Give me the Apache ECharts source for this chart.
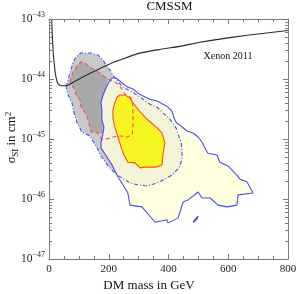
<!DOCTYPE html>
<html><head><meta charset="utf-8">
<script src="https://cdn.jsdelivr.net/npm/echarts@6/dist/echarts.min.js"></script>
<style>html,body{margin:0;padding:0;background:#fff}#c{width:297px;height:294px}</style>
</head><body><div id="c"></div>
<script>
// ---- tick labels ----
const xTicks = [0, 200, 400, 600, 800];
const yExponents = [-47, -46, -45, -44, -43];

// ---- Xenon 2011 exclusion curve [mass GeV, sigma cm^2] ----
const xenon2011 = [[9,1.0e-43],[11,5.4e-44],[14,2.85e-44],[18,1.7e-44],[22,1.17e-44],[29,8.5e-45],[40,7.7e-45],[59,7.7e-45],[76,8.5e-45],[107,1.04e-44],[140,1.26e-44],[174,1.52e-44],[207,1.82e-44],[234,2.05e-44],[298,2.65e-44],[370,3.1e-44],[438,3.5e-44],[505,4.1e-44],[549,4.45e-44],[663,5.35e-44],[800,6.45e-44]];

// ---- blue solid outer contour ----
const blueSolid = [[211,1.04e-44],[224,1.04e-44],[241,8.9e-45],[261,7.4e-45],[281,6.8e-45],[298,5.8e-45],[315,5.2e-45],[338,4.6e-45],[362,4.3e-45],[382,3.8e-45],[398,3.4e-45],[412,2.9e-45],[418,2.3e-45],[425,1.9e-45],[438,1.7e-45],[462,1.36e-45],[482,1.26e-45],[499,1.08e-45],[512,8.9e-46],[522,7.1e-46],[532,5.8e-46],[562,5.4e-46],[572,4.1e-46],[599,3.55e-46],[629,2.5e-46],[639,2.15e-46],[663,1.92e-46],[683,1.26e-46],[633,1.17e-46],[629,7.9e-47],[596,7.4e-47],[566,7.9e-47],[539,1.04e-46],[512,1.04e-46],[499,1.31e-46],[465,9.6e-47],[449,8.9e-47],[432,4.8e-47],[398,4.0e-47],[395,4.5e-47],[355,4.1e-47],[311,7.4e-47],[271,7.9e-47],[264,1.26e-46],[248,1.71e-46],[231,2.33e-46],[211,3.7e-46],[194,5.0e-46],[174,7.1e-46],[174,8.6e-46],[181,1.26e-45],[184,1.58e-45],[177,2.07e-45],[177,3.04e-45],[174,4.14e-45],[181,5.41e-45],[191,7.08e-45],[197,8.25e-45]];
const blueIsland = [[482,4.1e-47],[492,4.8e-47],[499,5.2e-47],[495,4.6e-47],[485,4.1e-47]];

// ---- blue dash-dot contour ----
const blueDashDot = [[57,7.4e-45],[64,9.6e-45],[70,1.26e-44],[80,1.85e-44],[90,2.33e-44],[107,2.71e-44],[141,2.71e-44],[164,2.51e-44],[181,2.07e-44],[191,1.71e-44],[204,1.41e-44],[214,1.17e-44],[231,8.9e-45],[251,7.1e-45],[278,6.1e-45],[305,5.0e-45],[338,3.8e-45],[365,3.3e-45],[382,2.7e-45],[398,2.33e-45],[412,1.92e-45],[425,1.53e-45],[432,1.21e-45],[442,8.9e-46],[445,6.6e-46],[445,4.5e-46],[435,3.3e-46],[412,2.5e-46],[382,2.07e-46],[362,1.85e-46],[328,1.65e-46],[298,1.71e-46],[271,1.85e-46],[244,2.24e-46],[224,2.6e-46],[201,3.4e-46],[174,5.2e-46],[161,7.1e-46],[137,1.12e-45],[110,1.31e-45],[94,1.85e-45],[84,2.71e-45],[77,3.98e-45],[64,5.41e-45]];

// ---- overlap of both blue regions (cream) ----
const creamOverlap = [[211,1.04e-44],[197,8.25e-45],[191,7.08e-45],[181,5.41e-45],[174,4.14e-45],[177,3.04e-45],[177,2.07e-45],[184,1.58e-45],[181,1.26e-45],[174,8.6e-46],[174,7.1e-46],[194,5.0e-46],[211,3.7e-46],[224,2.7e-46],[244,2.24e-46],[271,1.85e-46],[298,1.71e-46],[328,1.65e-46],[362,1.85e-46],[382,2.07e-46],[412,2.5e-46],[435,3.3e-46],[445,4.5e-46],[445,6.6e-46],[442,8.9e-46],[432,1.21e-45],[425,1.53e-45],[412,1.92e-45],[398,2.33e-45],[382,2.7e-45],[365,3.3e-45],[338,3.8e-45],[305,5.0e-45],[278,6.1e-45],[251,7.1e-45],[231,8.9e-45]];

// ---- dark gray region ----
const darkGray = [[197,1.0e-44],[191,7.08e-45],[181,5.41e-45],[174,4.14e-45],[177,3.04e-45],[177,2.07e-45],[184,1.58e-45],[181,1.26e-45],[164,1.26e-45],[141,1.31e-45],[137,1.58e-45],[131,2.07e-45],[121,2.71e-45],[107,3.41e-45],[104,4.47e-45],[90,5.41e-45],[87,6.56e-45],[70,8.9e-45],[80,1.31e-44],[97,1.71e-44],[107,1.92e-44],[121,1.85e-44],[137,1.58e-44],[154,1.41e-44],[171,1.26e-44],[187,1.08e-44]];

// ---- red dashed contour ----
const redDashed = [[70,8.9e-45],[80,1.31e-44],[97,1.71e-44],[107,1.92e-44],[121,1.85e-44],[137,1.58e-44],[154,1.41e-44],[171,1.26e-44],[187,1.08e-44],[204,9.6e-45],[231,8.25e-45],[244,6.8e-45],[254,5.6e-45],[268,5.2e-45],[278,4.5e-45],[281,3.3e-45],[281,2.24e-45],[281,1.53e-45],[278,1.17e-45],[261,1.08e-45],[244,1.12e-45],[228,1.12e-45],[204,1.04e-45],[181,9.6e-46],[167,1.12e-45],[164,1.26e-45],[141,1.31e-45],[137,1.58e-45],[131,2.07e-45],[121,2.71e-45],[107,3.41e-45],[104,4.47e-45],[90,5.41e-45],[87,6.56e-45]];

// ---- red solid contour (yellow region) ----
const redSolid = [[228,5.0e-45],[238,5.4e-45],[254,5.4e-45],[271,4.8e-45],[281,4.0e-45],[305,2.82e-45],[331,2.07e-45],[362,1.53e-45],[378,1.26e-45],[388,8.6e-46],[382,5.8e-46],[378,3.7e-46],[355,3.4e-46],[321,3.4e-46],[305,3.3e-46],[288,4.0e-46],[264,4.1e-46],[251,5.4e-46],[241,7.4e-46],[231,1.08e-45],[221,1.53e-45],[214,2.24e-45],[214,3.04e-45],[221,4.14e-45]];

const SERIF = '"Liberation Serif","DejaVu Serif",serif';
const FRAME = '#7a7a7a';

function fillSeries(points, color, z) {
  return {
    type: 'custom', coordinateSystem: 'cartesian2d', z: z, silent: true, animation: false,
    data: points,
    renderItem: function (params, api) {
      if (params.dataIndex !== 0) return null;
      const pts = points.map(function (p) { return api.coord(p); });
      return { type: 'polygon', shape: { points: pts }, style: { fill: color, stroke: null } };
    }
  };
}
function outlineSeries(points, color, dash, z) {
  return {
    type: 'line', z: z, silent: true, animation: false, symbol: 'none', smooth: false,
    data: points.concat([points[0]]),
    lineStyle: { color: color, width: 1.1, type: dash }
  };
}

// log-axis ticks: [x, value, isMajor]
const yTickVals = [];
yExponents.forEach(function (e, i) {
  yTickVals.push([0, Math.pow(10, e), 1]);
  if (i < yExponents.length - 1) for (let m = 2; m <= 9; m++) yTickVals.push([0, m * Math.pow(10, e), 0]);
});

const yRich = {
  b: { fontFamily: SERIF, fontSize: 11.5, fill: '#222', lineHeight: 16 },
  s: { fontFamily: SERIF, fontSize: 8, fill: '#222', lineHeight: 8, verticalAlign: 'top' }
};

const xAxisBase = {
  type: 'value', min: 0, max: 800, interval: 200,
  axisLine: { show: true, onZero: false, lineStyle: { color: FRAME, width: 1 } },
  axisTick: { show: true, inside: true, length: 5, lineStyle: { color: FRAME } },
  minorTick: { show: true, splitNumber: 4, length: 3, lineStyle: { color: FRAME } },
  splitLine: { show: false }, minorSplitLine: { show: false }
};
const yAxisBase = {
  type: 'log', logBase: 10, min: 1e-47, max: 1e-43,
  axisLine: { show: true, onZero: false, lineStyle: { color: FRAME, width: 1 } },
  axisTick: { show: false }, axisLabel: { show: false },
  splitLine: { show: false }
};

const chart = echarts.init(document.getElementById('c'), null, { renderer: 'canvas' });
chart.setOption({
  animation: false,
  backgroundColor: '#ffffff',
  grid: { left: 49, top: 19, width: 239, height: 240, outerBoundsMode: 'none', containLabel: false },
  xAxis: [
    Object.assign({}, xAxisBase, { position: 'bottom',
      axisLabel: { show: true, fontFamily: SERIF, fontSize: 11, color: '#222', margin: 5,
        showMinLabel: true, showMaxLabel: true,
        formatter: function (v) { return xTicks.indexOf(v) >= 0 ? String(v) : ''; } } }),
    Object.assign({}, xAxisBase, { position: 'top', axisLabel: { show: false } })
  ],
  yAxis: [
    Object.assign({}, yAxisBase, { position: 'left' }),
    Object.assign({}, yAxisBase, { position: 'right' })
  ],
  series: [
    fillSeries(blueDashDot, '#c9c9c9', 1),
    fillSeries(blueSolid, '#ffffe0', 2),
    fillSeries(creamOverlap, '#f4f4d6', 3),
    fillSeries(darkGray, '#a9a9a9', 4),
    fillSeries(redSolid, '#f5f522', 5),
    outlineSeries(redSolid, '#ff4a2a', 'solid', 6),
    outlineSeries(redDashed, '#ff4a4a', [4, 3], 6),
    outlineSeries(blueDashDot, '#4a4aff', [4, 2, 1, 2], 7),
    outlineSeries(blueSolid, '#4a4aff', 'solid', 7),
    outlineSeries(blueIsland, '#4a4aff', 'solid', 7),
    { type: 'line', z: 8, silent: true, animation: false, symbol: 'none', smooth: 0.2,
      data: xenon2011, lineStyle: { color: '#2a2a2a', width: 1.1 } },
    { type: 'custom', z: 9, silent: true, animation: false, clip: false, data: yTickVals,
      renderItem: function (params, api) {
        const v = api.value(1);
        const major = api.value(2) === 1;
        const len = major ? 5 : 3;
        const pL = api.coord([0, v]);
        const pR = api.coord([800, v]);
        const y = Math.round(pL[1]) + 0.5;
        const children = [
          { type: 'line', shape: { x1: pL[0], y1: y, x2: pL[0] + len, y2: y }, style: { stroke: FRAME, lineWidth: 1 } },
          { type: 'line', shape: { x1: pR[0], y1: y, x2: pR[0] - len, y2: y }, style: { stroke: FRAME, lineWidth: 1 } }
        ];
        if (major) {
          const e = Math.round(Math.log10(v));
          children.push({ type: 'text', x: pL[0] - 4, y: pL[1],
            style: { text: '{b|10}{s|\u2212' + Math.abs(e) + '}', rich: yRich, align: 'right', verticalAlign: 'middle' } });
        }
        return { type: 'group', children: children };
      } }
  ],
  graphic: [
    { type: 'text', x: 169.5, y: 6.5, silent: true,
      style: { text: 'CMSSM', fontFamily: SERIF, fontSize: 13, fill: '#111', align: 'center', verticalAlign: 'middle', textAlign: 'center', textVerticalAlign: 'middle' } },
    { type: 'text', x: 228, y: 56.5, silent: true,
      style: { text: 'Xenon 2011', fontFamily: SERIF, fontSize: 10, fill: '#111', align: 'center', verticalAlign: 'middle', textAlign: 'center', textVerticalAlign: 'middle' } },
    { type: 'text', x: 149, y: 286, silent: true,
      style: { text: 'DM mass in GeV', fontFamily: SERIF, fontSize: 13, fill: '#111', align: 'center', verticalAlign: 'middle', textAlign: 'center', textVerticalAlign: 'middle' } },
    { type: 'text', x: 12, y: 137.5, rotation: Math.PI / 2, silent: true,
      style: { text: '{g|\u03C3}{sub|SI}{t| in cm}{sup|2}', align: 'center', verticalAlign: 'middle', textAlign: 'center', textVerticalAlign: 'middle',
        rich: {
          g: { fontFamily: SERIF, fontSize: 13, fontStyle: 'italic', fill: '#111', lineHeight: 16 },
          sub: { fontFamily: SERIF, fontSize: 9, fill: '#111', lineHeight: 9, verticalAlign: 'bottom' },
          t: { fontFamily: SERIF, fontSize: 13, fill: '#111', lineHeight: 16 },
          sup: { fontFamily: SERIF, fontSize: 9, fill: '#111', lineHeight: 9, verticalAlign: 'top' }
        } } }
  ]
});
</script>
</body></html>
